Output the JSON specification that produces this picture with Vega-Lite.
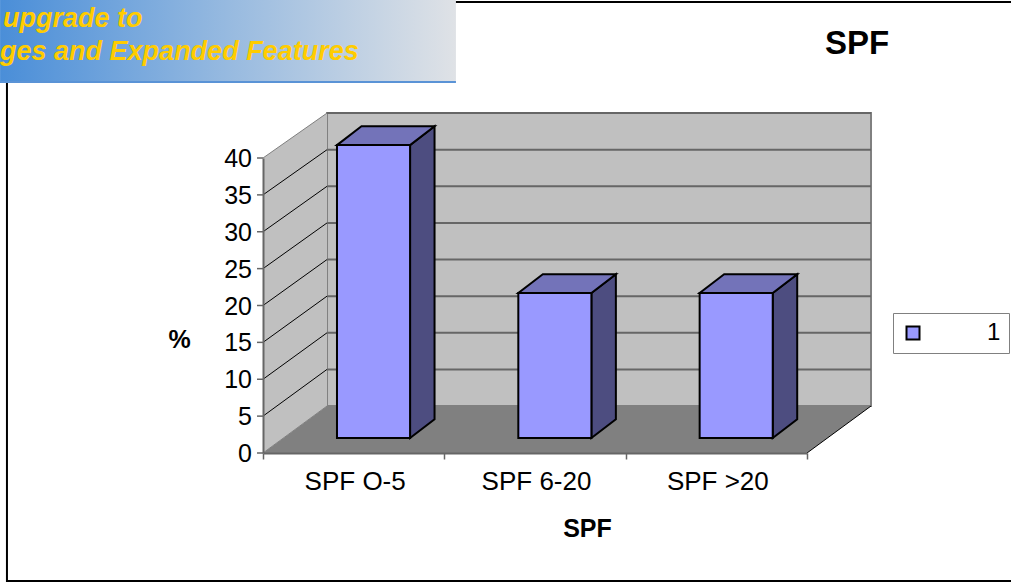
{
"$schema":"https://vega.github.io/schema/vega-lite/v6.json",
"width":544,"height":295,
"padding":{"left":263,"top":158,"right":204,"bottom":130},
"autosize":{"type":"none"},
"background":"white",
"title":{"text":"SPF","anchor":"start","frame":"group","dx":562,"offset":0,"dy":87,"baseline":"alphabetic","fontSize":33,"fontWeight":"bold","font":"Liberation Sans","color":"black"},
"datasets":{
"bars":[{"category":"SPF O-5","series":"1","value":40},{"category":"SPF 6-20","series":"1","value":19.8},{"category":"SPF >20","series":"1","value":19.8}],
"ticks":[{"value":0},{"value":5},{"value":10},{"value":15},{"value":20},{"value":25},{"value":30},{"value":35},{"value":40}],
"depth":[{"d":0},{"d":1}],
"once":[{"part":"frame"}]
},
"layer":[
{"data":{"name":"ticks"},"mark":{"type":"rule","opacity":0},
 "encoding":{"x":{"datum":0,"type":"quantitative","scale":{"domain":[0,3],"nice":false},
   "axis":{"zindex":1,"orient":"bottom","values":[0,0.5,1,1.5,2,2.5,3],"labelExpr":"datum.value===0.5?'SPF O-5':datum.value===1.5?'SPF 6-20':datum.value===2.5?'SPF >20':''","tickOpacity":{"condition":{"test":"datum.value % 1 !== 0","value":0},"value":1},"grid":false,"tickSize":6,"tickColor":"#666666","tickWidth":1.5,"domainColor":"#666666","domainWidth":2,"labelFont":"Liberation Sans","labelFontSize":26,"labelColor":"black","labelPadding":9,"labelOffset":1,"labelFlush":false,"labelOverlap":false,"labelBound":false,"title":"SPF","titleFont":"Liberation Sans","titleFontSize":25,"titleFontWeight":"bold","titleColor":"black","titleX":324,"titleY":83,"titleAlign":"center","titleBaseline":"alphabetic"}},
  "y":{"field":"value","type":"quantitative","scale":{"domain":[0,40],"nice":false},
   "axis":{"zindex":1,"orient":"left","ticks":false,"labels":false,"grid":false,"domainColor":"#666666","domainWidth":2,"title":"%","titleFont":"Liberation Sans","titleFontSize":25,"titleFontWeight":"bold","titleColor":"black","titleAngle":0,"titleX":-84,"titleY":181,"titleAlign":"center","titleBaseline":"middle"}}}},
{"data":{"name":"once"},"mark":{"type":"rect","fill":"white","stroke":"black","strokeWidth":2},
 "encoding":{"x":{"datum":-1.412,"type":"quantitative","scale":{"domain":[0,3],"nice":false}},"x2":{"datum":4.3},"y":{"datum":61.15,"type":"quantitative","scale":{"domain":[0,40],"nice":false}},"y2":{"datum":-17.36}}},
{"data":{"name":"once"},"mark":{"type":"rect","fill":"#c0c0c0","stroke":"#808080","strokeWidth":2},
 "encoding":{"x":{"datum":0.353,"type":"quantitative","scale":{"domain":[0,3],"nice":false}},"x2":{"datum":3.353},"y":{"datum":6.37,"type":"quantitative","scale":{"domain":[0,40],"nice":false}},"y2":{"datum":46.09}}},
{"data":{"name":"depth"},"transform":[{"calculate":"datum.d*0.353","as":"x"},{"calculate":"datum.d*6.37","as":"y"},{"calculate":"3+datum.d*0.353","as":"x2"}],
 "mark":{"type":"area","orient":"horizontal","fill":"#808080"},
 "encoding":{"y":{"field":"y","type":"quantitative","scale":{"domain":[0,40],"nice":false},"stack":false},"x":{"field":"x","type":"quantitative","scale":{"domain":[0,3],"nice":false},"stack":false},"x2":{"field":"x2"}}},
{"data":{"name":"depth"},"transform":[{"calculate":"datum.d*0.353","as":"x"},{"calculate":"datum.d*6.37","as":"y"},{"calculate":"40+datum.d*6.09","as":"y2"}],
 "mark":{"type":"area","fill":"#c0c0c0"},
 "encoding":{"x":{"field":"x","type":"quantitative","scale":{"domain":[0,3],"nice":false}},"y":{"field":"y","type":"quantitative","scale":{"domain":[0,40],"nice":false},"stack":false},"y2":{"field":"y2"}}},
{"data":{"name":"ticks"},"transform":[{"filter":"datum.value>0 && datum.value<=40"},{"calculate":"6.37+datum.value*0.993","as":"back"}],
 "mark":{"type":"rule","stroke":"#666666","strokeWidth":2},
 "encoding":{"x":{"datum":0.353,"type":"quantitative","scale":{"domain":[0,3],"nice":false}},"x2":{"datum":3.353},"y":{"field":"back","type":"quantitative","scale":{"domain":[0,40],"nice":false}}}},
{"data":{"name":"ticks"},"transform":[{"calculate":"6.37+datum.value*0.993","as":"back"}],
 "mark":{"type":"rule","strokeWidth":1},
 "encoding":{"x":{"datum":0,"type":"quantitative","scale":{"domain":[0,3],"nice":false}},"x2":{"datum":0.353},"y":{"field":"value","type":"quantitative","scale":{"domain":[0,40],"nice":false}},"y2":{"field":"back"},"color":{"condition":{"test":"datum.value===40 || datum.value===0","value":"#808080"},"value":"black"}}},
{"data":{"name":"ticks"},"mark":{"type":"rule","stroke":"#666666","strokeWidth":1.5},
 "encoding":{"x":{"datum":-0.033,"type":"quantitative","scale":{"domain":[0,3],"nice":false}},"x2":{"datum":0},"y":{"field":"value","type":"quantitative","scale":{"domain":[0,40],"nice":false}}}},
{"data":{"name":"ticks"},"mark":{"type":"text","align":"right","baseline":"middle","dy":1,"font":"Liberation Sans","fontSize":25,"fill":"black"},
 "encoding":{"text":{"field":"value","type":"quantitative"},"x":{"datum":-0.061,"type":"quantitative","scale":{"domain":[0,3],"nice":false}},"y":{"field":"value","type":"quantitative","scale":{"domain":[0,40],"nice":false}}}},
{"data":{"name":"once"},"mark":{"type":"rule","stroke":"black","strokeWidth":1},
 "encoding":{"x":{"datum":3,"type":"quantitative","scale":{"domain":[0,3],"nice":false}},"x2":{"datum":3.353},"y":{"datum":0,"type":"quantitative","scale":{"domain":[0,40],"nice":false}},"y2":{"datum":6.37}}},
{"data":{"name":"bars"},"transform":[{"calculate":"indexof(['SPF O-5','SPF 6-20','SPF >20'],datum.category)","as":"pos"},{"calculate":"[0,1]","as":"s"},{"flatten":["s"]},{"calculate":"datum.pos+0.811+datum.s*0.135","as":"x"},{"calculate":"2.03+datum.s*2.55","as":"y"},{"calculate":"2.03+datum.value*0.993+datum.s*2.55","as":"y2"}],
 "mark":{"type":"area","fill":"#4d4d80","stroke":"black","strokeWidth":2},
 "encoding":{"detail":{"field":"category"},"x":{"field":"x","type":"quantitative","scale":{"domain":[0,3],"nice":false}},"y":{"field":"y","type":"quantitative","scale":{"domain":[0,40],"nice":false},"stack":false},"y2":{"field":"y2"}}},
{"data":{"name":"bars"},"transform":[{"calculate":"indexof(['SPF O-5','SPF 6-20','SPF >20'],datum.category)","as":"pos"},{"calculate":"[0,1]","as":"s"},{"flatten":["s"]},{"calculate":"datum.pos+0.408+datum.s*0.135","as":"x"},{"calculate":"datum.pos+0.811+datum.s*0.135","as":"x2"},{"calculate":"2.03+datum.value*0.993+datum.s*2.55","as":"y"}],
 "mark":{"type":"area","orient":"horizontal","fill":"#7373b9","stroke":"black","strokeWidth":2},
 "encoding":{"detail":{"field":"category"},"y":{"field":"y","type":"quantitative","scale":{"domain":[0,40],"nice":false},"stack":false},"x":{"field":"x","type":"quantitative","scale":{"domain":[0,3],"nice":false},"stack":false},"x2":{"field":"x2"}}},
{"data":{"name":"bars"},"transform":[{"calculate":"indexof(['SPF O-5','SPF 6-20','SPF >20'],datum.category)","as":"pos"},{"calculate":"datum.pos+0.408","as":"x"},{"calculate":"datum.pos+0.811","as":"x2"},{"calculate":"2.03+datum.value*0.993","as":"y2"},{"calculate":"2.03","as":"y"}],
 "mark":{"type":"rect","stroke":"black","strokeWidth":2},
 "encoding":{"x":{"field":"x","type":"quantitative","scale":{"domain":[0,3],"nice":false}},"x2":{"field":"x2"},"y":{"field":"y","type":"quantitative","scale":{"domain":[0,40],"nice":false}},"y2":{"field":"y2"},
 "color":{"field":"series","type":"nominal","scale":{"range":["#9999ff"]},
  "legend":{"title":null,"orient":"none","legendX":630,"legendY":155,"padding":8,"fillColor":"white","strokeColor":"#808080","symbolType":"square","symbolSize":169,"symbolStrokeColor":"black","symbolStrokeWidth":2,"labelFont":"Liberation Sans","labelFontSize":24,"labelColor":"black","labelOffset":62}}}},
{"data":{"name":"once"},"mark":{"type":"rect","fill":{"gradient":"linear","x1":0,"x2":1,"y1":0,"y2":0,"stops":[{"offset":0,"color":"#4a8ed8"},{"offset":0.5,"color":"#97bae0"},{"offset":1,"color":"#dfe2e6"}]}},
 "encoding":{"x":{"datum":-1.45,"type":"quantitative","scale":{"domain":[0,3],"nice":false}},"x2":{"datum":1.064},"y":{"datum":61.42,"type":"quantitative","scale":{"domain":[0,40],"nice":false}},"y2":{"datum":50.17}}},
{"data":{"name":"once"},"mark":{"type":"rule","stroke":"#5a93d6","strokeWidth":2},
 "encoding":{"x":{"datum":-1.45,"type":"quantitative","scale":{"domain":[0,3],"nice":false}},"x2":{"datum":1.064},"y":{"datum":50.3,"type":"quantitative","scale":{"domain":[0,40],"nice":false}}}},
{"data":{"name":"once"},"mark":{"type":"text","align":"left","baseline":"alphabetic","font":"Liberation Sans","fontSize":27,"fontWeight":"bold","fontStyle":"italic","fill":"#ffcc00"},
 "encoding":{"text":{"value":"upgrade to"},"x":{"datum":-1.434,"type":"quantitative","scale":{"domain":[0,3],"nice":false}},"y":{"datum":57.76,"type":"quantitative","scale":{"domain":[0,40],"nice":false}}}},
{"data":{"name":"once"},"mark":{"type":"text","align":"left","baseline":"alphabetic","font":"Liberation Sans","fontSize":27,"fontWeight":"bold","fontStyle":"italic","fill":"#ffcc00"},
 "encoding":{"text":{"value":"ges and Expanded Features"},"x":{"datum":-1.45,"type":"quantitative","scale":{"domain":[0,3],"nice":false}},"y":{"datum":53.3,"type":"quantitative","scale":{"domain":[0,40],"nice":false}}}}
]
}
